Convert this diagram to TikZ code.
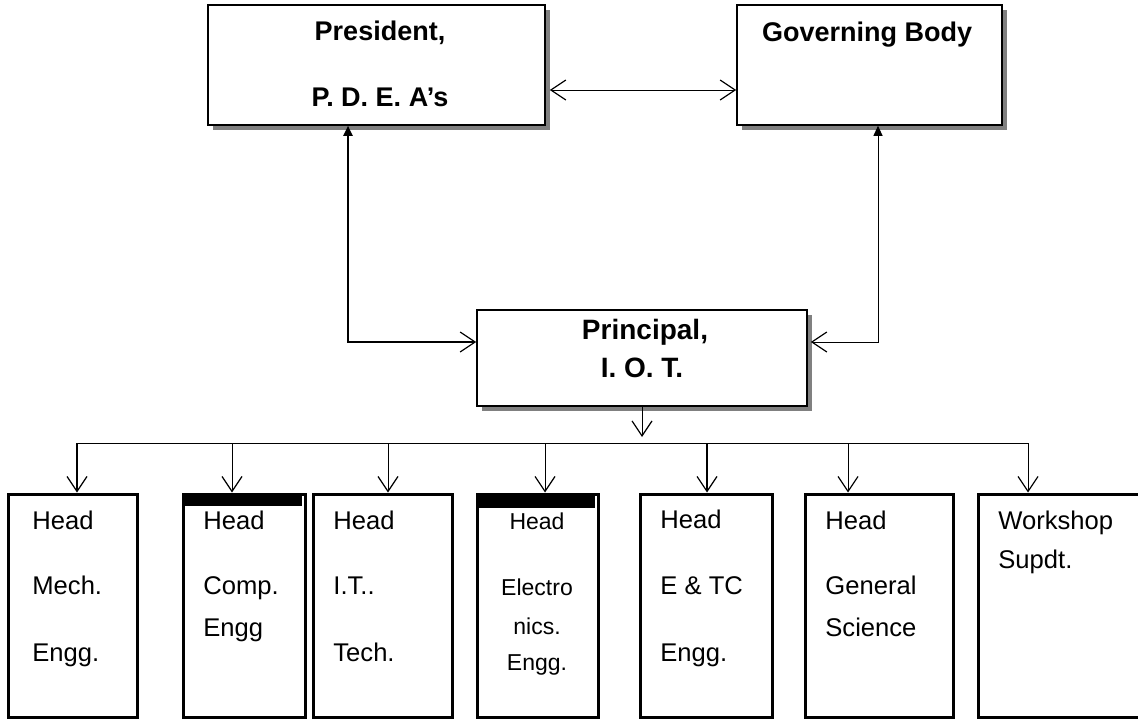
\documentclass[tikz,border=0pt]{standalone}
\usepackage{fontspec}
\setmainfont{Liberation Sans}
\usetikzlibrary{arrows.meta,shadows}

\tikzset{
  topbox/.style={draw,line width=0.8pt,fill=white,inner sep=0pt,
    drop shadow={shadow xshift=2.5pt,shadow yshift=-2.5pt,fill=black!50,opacity=1}},
  headbox/.style={draw,line width=1.5pt,inner sep=0pt,minimum width=#1,minimum height=111.5pt},
  bigtxt/.style={font=\bfseries\fontsize{13.5}{16}\selectfont,inner sep=0pt},
  deptxt/.style={anchor=mid west,font=\fontsize{12.8}{15}\selectfont,inner sep=0pt},
  smalltxt/.style={anchor=mid,font=\fontsize{11.5}{14}\selectfont,inner sep=0pt},
  vbarb/.tip={Straight Barb[length=7.5pt,width=10pt,line width=0.6pt]},
  ftri/.tip={Triangle[length=5pt,width=4.5pt]},
}

\begin{document}
\begin{tikzpicture}[x=0.5pt,y=-0.5pt]
  \useasboundingbox (0,0) rectangle (1138,719);
  \clip (0,0) rectangle (1138,719);
  % top level
  \node[topbox,minimum width=168.5pt,minimum height=60pt] (pres) at (376.5,65) {};
  \node[topbox,minimum width=132.5pt,minimum height=60pt] (gov) at (869.5,65) {};
  \node[topbox,minimum width=165pt,minimum height=48pt] (prin) at (642,358) {};
  \node[bigtxt] (presA) at (380,33) {President,};
  \node[bigtxt] (presB) at (380,97) {P. D. E. A’s};
  \node[bigtxt] (govA) at (867,35) {Governing Body};
  \node[bigtxt,font=\bfseries\fontsize{14}{16}\selectfont] (prinA) at (645,332) {Principal,};
  \node[bigtxt,font=\bfseries\fontsize{14}{16}\selectfont] (prinB) at (642,368) {I. O. T.};
  \draw[line width=0.5pt,{vbarb}-{vbarb}] ([yshift=-12.5pt,xshift=2pt]pres.east) -- ([yshift=-12.5pt]gov.west);
  \draw[line width=1pt,{ftri}-{vbarb}] ([xshift=-14.25pt]pres.south) |- ([yshift=8pt]prin.west);
  \draw[line width=0.5pt,{ftri}-{vbarb}] ([xshift=4.25pt]gov.south) |- ([yshift=8pt,xshift=1.5pt]prin.east);

  % heads
  \node[headbox=64.5pt] (mech) at (72.5,605.5) {};
  \node[headbox=61pt] (comp) at (244,605.5) {};
  \node[headbox=69.5pt] (it) at (382.5,605.5) {};
  \node[headbox=60.5pt] (elec) at (537.5,605.5) {};
  \node[headbox=66pt] (etc) at (706,605.5) {};
  \node[headbox=74pt] (gen) at (879,605.5) {};
  \node[headbox=100pt] (work) at (1078,605.5) {};
  \fill (183,494) rectangle (302,506);
  \fill (477,494) rectangle (595,508);

  \coordinate (bus) at (642,443);
  \draw[line width=0.5pt,-{vbarb}] (prin.south) -- ([yshift=3pt]bus);
  \draw[line width=0.5pt] ([xshift=2.25pt]mech.north |- bus) -- ([xshift=-25pt]work.north |- bus);
  \foreach \n/\dx/\w in {mech/2.25pt/1pt,comp/-6pt/0.5pt,it/2.75pt/0.5pt,elec/3.75pt/0.5pt,
                         etc/0.5pt/1pt,gen/-15.5pt/0.5pt,work/-25pt/0.5pt}
    \draw[line width=\w,-{vbarb}] ([xshift=\dx]\n.north |- bus) -- ([xshift=\dx]\n.north);

  \node[deptxt] (mechA) at (32,524) {Head};
  \node[deptxt] (mechB) at (32,589) {Mech.};
  \node[deptxt] (mechC) at (32,656) {Engg.};
  \node[deptxt] (compA) at (203,524) {Head};
  \node[deptxt] (compB) at (203,589) {Comp.};
  \node[deptxt] (compC) at (203,631) {Engg};
  \node[deptxt] (itA) at (333,524) {Head};
  \node[deptxt] (itB) at (333,589) {I.T..};
  \node[deptxt] (itC) at (333,656) {Tech.};
  \node[smalltxt] (elecA) at (537,524) {Head};
  \node[smalltxt] (elecB) at (537,590) {Electro};
  \node[smalltxt] (elecC) at (537,629) {nics.};
  \node[smalltxt] (elecD) at (537,665) {Engg.};
  \node[deptxt] (etcA) at (660,523) {Head};
  \node[deptxt] (etcB) at (660,589) {E \& TC};
  \node[deptxt] (etcC) at (660,656) {Engg.};
  \node[deptxt] (genA) at (825,524) {Head};
  \node[deptxt] (genB) at (825,589) {General};
  \node[deptxt] (genC) at (825,631) {Science};
  \node[deptxt] (workA) at (998,524) {Workshop};
  \node[deptxt] (workB) at (998,563) {Supdt.};
\end{tikzpicture}
\end{document}
